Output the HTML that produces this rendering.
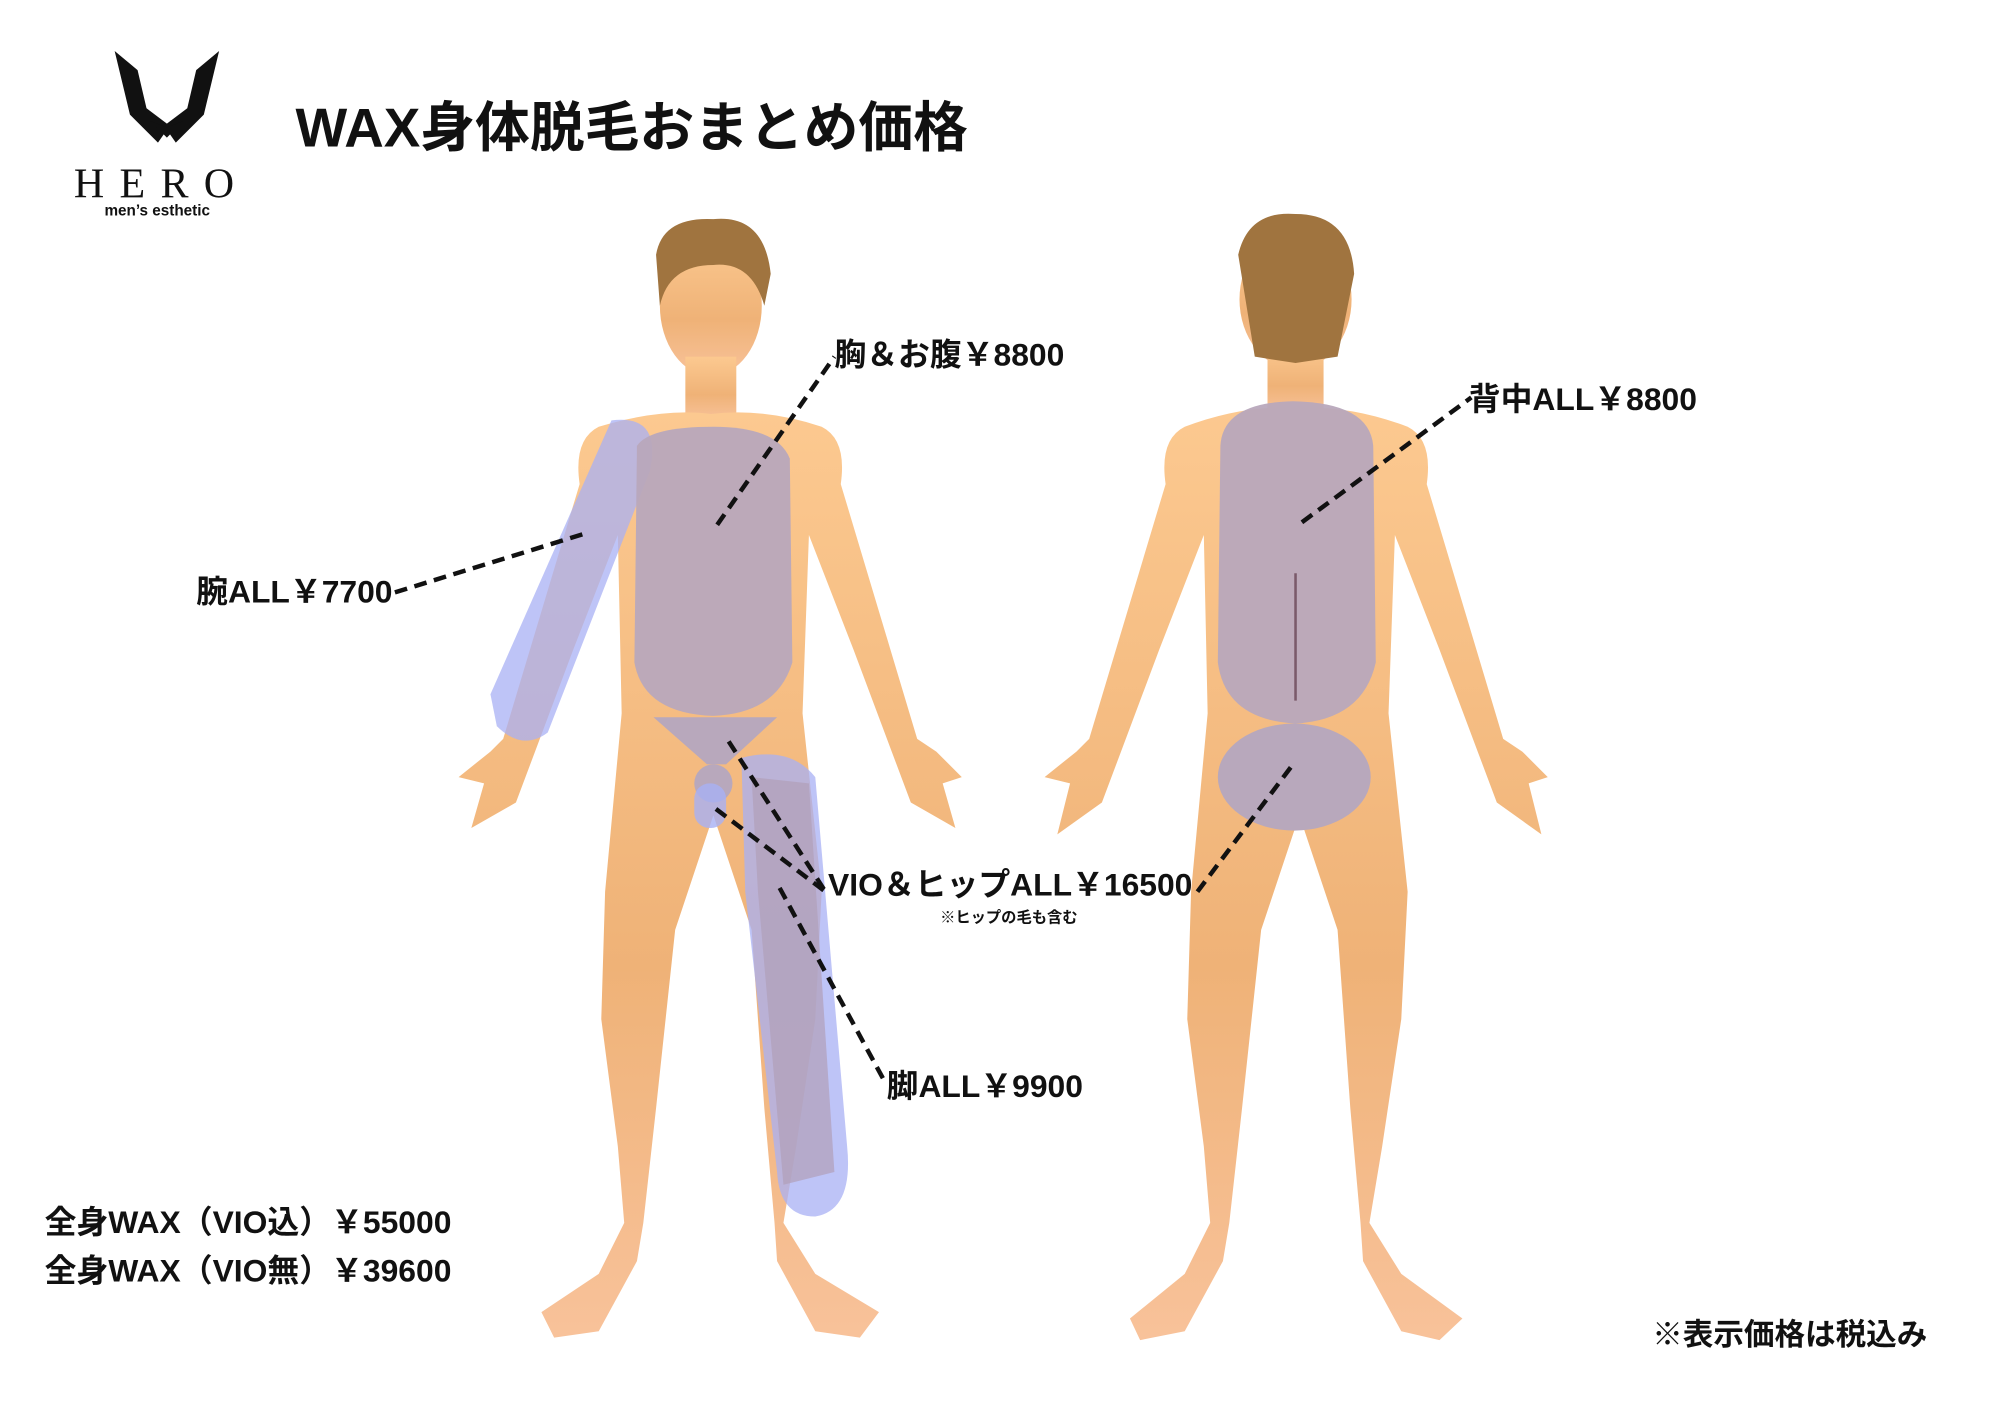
<!DOCTYPE html>
<html><head><meta charset="utf-8"><style>
html,body{margin:0;padding:0;background:#fff;}
svg{display:block}
text{font-family:"Liberation Sans","Noto Sans CJK JP",sans-serif;font-weight:bold;fill:#111}
</style></head><body>
<svg width="2000" height="1414" viewBox="0 0 1570 1110" xmlns="http://www.w3.org/2000/svg">
<defs>
<linearGradient id="sk" x1="0" y1="0" x2="0" y2="1">
<stop offset="0" stop-color="#fcc990"/><stop offset="0.6" stop-color="#efb277"/><stop offset="1" stop-color="#f8c29a"/>
</linearGradient>
</defs>
<rect width="1570" height="1110" fill="#fff"/>
<!-- logo -->
<path d="M90,40 L108,55 L115,85 L131,97 L147,85 L154,55 L172,40 L160,90 L138,112 L131,102 L124,112 L102,90 Z" fill="#111"/>
<path d="M118,95 L131,108 L144,95 L131,100 Z" fill="#111"/>
<text x="58" y="155" font-size="33" letter-spacing="12" style="font-family:'Liberation Serif',serif;font-weight:normal">HERO</text>
<text x="82" y="169" font-size="12">men’s esthetic</text>
<text x="232" y="115" font-size="43">WAX身体脱毛おまとめ価格</text>

<!-- FRONT FIGURE -->
<g fill="url(#sk)">
<ellipse cx="558" cy="240" rx="40" ry="55"/>
<rect x="538" y="280" width="40" height="50"/>
<path d="M470,335 Q520,320 558,325 Q600,320 645,335 Q665,345 660,380 L690,480 L720,580 L735,590 L755,610 L740,615 L750,650 L715,630 L700,590 L670,510 L635,420 L630,560 L645,700 L640,800 L625,900 L615,960 L640,1000 L690,1030 L675,1050 L640,1045 L610,990 L608,960 L600,870 L590,730 L560,640 L530,730 L515,870 L505,960 L500,990 L470,1045 L435,1050 L425,1030 L470,1000 L490,960 L485,900 L472,800 L475,700 L488,560 L485,420 L450,510 L420,590 L405,630 L370,650 L380,615 L360,610 L385,590 L395,580 L425,480 L455,380 Q450,345 470,335 Z"/>
</g>
<path d="M515,200 Q520,170 560,172 Q600,168 605,215 L600,240 Q590,205 560,208 Q525,208 518,240 Z" fill="#a0743f"/>
<!-- front overlays -->
<path d="M480,330 Q520,325 510,370 L430,575 Q410,590 390,570 L385,545 Z" fill="#a8b0f4" opacity="0.75"/>
<path d="M500,350 Q510,335 560,335 Q610,335 620,360 L622,520 Q610,560 560,562 Q505,560 498,520 Z" fill="#b8a8bc" opacity="0.95"/>
<path d="M513,563 L610,563 L570,600 L555,600 Z" fill="#b8a8bc"/>
<path d="M582,595 Q620,585 640,610 L665,900 Q670,950 640,955 Q612,955 610,920 L585,700 Z" fill="#a8b0f4" opacity="0.75"/>
<path d="M590,610 L635,615 L655,920 L615,930 L595,700 Z" fill="#b0a0b8" opacity="0.7"/>
<circle cx="560" cy="615" r="15" fill="#b8a8bc"/>
<rect x="545" y="615" width="25" height="35" rx="12" fill="#a8b0f4" opacity="0.8"/>

<!-- BACK FIGURE -->
<g fill="url(#sk)">
<ellipse cx="1017" cy="235" rx="44" ry="55"/>
<rect x="995" y="270" width="44" height="55"/>
<path d="M930,335 Q975,318 1017,320 Q1060,318 1105,335 Q1125,345 1120,380 L1150,480 L1180,580 L1195,590 L1215,610 L1200,615 L1210,655 L1175,630 L1160,590 L1130,510 L1095,420 L1090,560 L1105,700 L1100,800 L1085,900 L1075,960 L1100,1000 L1148,1035 L1130,1052 L1100,1045 L1070,990 L1068,960 L1060,870 L1050,730 L1020,640 L990,730 L975,870 L965,960 L960,990 L930,1045 L895,1052 L887,1035 L930,1000 L950,960 L945,900 L932,800 L935,700 L948,560 L945,420 L910,510 L880,590 L865,630 L830,655 L840,615 L820,610 L845,590 L855,580 L885,480 L915,380 Q910,345 930,335 Z"/>
</g>
<path d="M972,200 Q980,165 1017,168 Q1060,168 1063,215 L1050,280 L1017,285 L985,280 Z" fill="#a0743f"/>
<path d="M958,350 Q960,316 1015,315 Q1075,316 1078,350 L1080,520 Q1070,565 1017,568 Q962,565 956,520 Z" fill="#b8a8bc" opacity="0.95"/>
<ellipse cx="1016" cy="610" rx="60" ry="42" fill="#b8a8bc"/>
<path d="M1017,450 L1017,550" stroke="#7a5a6a" stroke-width="2"/>

<!-- leader lines -->
<g stroke="#111" stroke-width="3.5" stroke-dasharray="10,6" fill="none">
<line x1="563" y1="412" x2="655" y2="280"/>
<line x1="310" y1="465" x2="462" y2="418"/>
<line x1="1022" y1="410" x2="1155" y2="312"/>
<line x1="572" y1="582" x2="648" y2="700"/>
<line x1="562" y1="635" x2="648" y2="700"/>
<line x1="940" y1="700" x2="1015" y2="600"/>
<line x1="612" y1="697" x2="695" y2="850"/>
</g>

<text x="655" y="287" font-size="25">胸＆お腹￥8800</text>
<text x="154" y="473" font-size="25">腕ALL￥7700</text>
<text x="1153" y="322" font-size="25">背中ALL￥8800</text>
<text x="650" y="703" font-size="25">VIO＆ヒップALL￥16500</text>
<text x="738" y="724" font-size="12">※ヒップの毛も含む</text>
<text x="696" y="861" font-size="25">脚ALL￥9900</text>
<text x="35" y="968" font-size="25">全身WAX（VIO込）￥55000</text>
<text x="35" y="1006" font-size="25">全身WAX（VIO無）￥39600</text>
<text x="1297" y="1056" font-size="24">※表示価格は税込み</text>
</svg>
</body></html>
